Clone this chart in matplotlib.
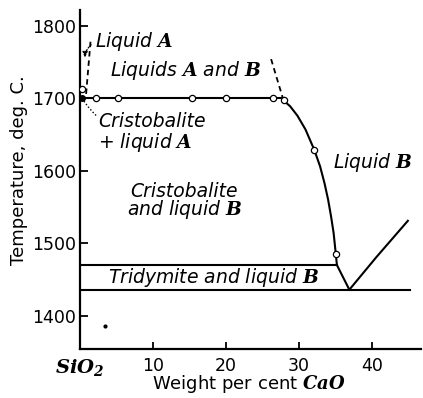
import matplotlib
matplotlib.use("Agg")
import matplotlib.pyplot as plt

plt.rcParams["font.family"] = ["DejaVu Sans"]
plt.rcParams["mathtext.fontset"] = "custom"
plt.rcParams["mathtext.it"] = "DejaVu Serif:italic:bold"
plt.rcParams["mathtext.rm"] = "DejaVu Serif:italic:bold"
plt.rcParams["mathtext.bf"] = "DejaVu Serif:italic:bold"

# CaO-SiO2 phase diagram, silica-rich end
# two-liquid monotectic at 1700 deg C (open circles = measured points)
mono_x = [0.0, 2.3, 5.2, 15.4, 20.0, 26.5, 27.9]
mono_t = [1700, 1700, 1700, 1700, 1700, 1700, 1700]
mono_pts_x = [2.3, 5.2, 15.4, 20.0, 26.5]

# cristobalite / tridymite liquidus down to the eutectic
liq_x = [27.9, 28.8, 29.8, 30.9, 32.1, 32.9, 33.5, 34.0, 34.4, 34.75, 35.05, 35.2, 36.9]
liq_t = [1697, 1689, 1676, 1657, 1629, 1606, 1583, 1560, 1537, 1514, 1485, 1470, 1436]
liq_pts_x = [27.9, 32.1, 35.05]
liq_pts_t = [1697, 1629, 1485]

# liquidus rising on the CaO-rich side of the eutectic
right_x = [36.9, 40.6, 44.9]
right_t = [1436, 1481, 1531]

# cristobalite melting point of pure silica
sio2_melt_x = [0.3]
sio2_melt_t = [1713]

# limits of the two-liquid region (dashed)
misc_left_x = [1.5, 0.85]
misc_left_t = [1778, 1700]
misc_right_x = [26.2, 27.9]
misc_right_t = [1754, 1697]

# horizontal boundaries
trid_x = [0.0, 35.2]
trid_t = [1470, 1470]
eut_x = [0.0, 45.2]
eut_t = [1436, 1436]

stray_x = [3.5]
stray_t = [1386]

xticks = [0, 10, 20, 30, 40]
xticklabels = [r"$SiO_2$", "10", "20", "30", "40"]
yticks = [1400, 1500, 1600, 1700, 1800]

fig = plt.figure(figsize=(4.23, 3.98), dpi=100)
ax = fig.add_axes([0.188, 0.1231, 0.8073, 0.8518])
ax.set_xlim(0, 46.7)
ax.set_ylim(1354.2, 1821.8)

lw = 1.5
ax.plot(mono_x, mono_t, color="black", lw=lw, zorder=3)
ax.plot(liq_x, liq_t, color="black", lw=lw, zorder=3)
ax.plot(right_x, right_t, color="black", lw=lw, zorder=3)
ax.plot(trid_x, trid_t, color="black", lw=lw, zorder=3)
ax.plot(eut_x, eut_t, color="black", lw=lw, zorder=3)
ax.plot(misc_left_x, misc_left_t, color="black", lw=1.3, ls=(0, (3, 2.2)), zorder=3)
ax.plot(misc_right_x, misc_right_t, color="black", lw=1.3, ls=(0, (3, 2.2)), zorder=3)

mk = dict(marker="o", ms=4.5, mfc="white", mec="black", mew=0.9, ls="none", zorder=5)
ax.plot(mono_pts_x, [1700] * len(mono_pts_x), **mk)
ax.plot(liq_pts_x, liq_pts_t, **mk)
ax.plot(sio2_melt_x, sio2_melt_t, **mk)
ax.plot([0.4], [1700], marker="o", ms=4, color="black", ls="none", zorder=4)
ax.plot(stray_x, stray_t, marker="o", ms=2, color="black", ls="none")

# dotted leaders
ax.plot([0.6, 1.2, 1.9, 2.4], [1696, 1688, 1680, 1675], color="black", lw=1.0,
        ls=(0, (1, 1.5)))
ax.annotate("", xy=(0.75, 1752), xytext=(1.9, 1776),
            arrowprops=dict(arrowstyle="-|>,head_length=0.35,head_width=0.15",
                            color="black", lw=0.9, ls=(0, (1, 1.5)),
                            connectionstyle="arc3,rad=0.3"))

tk = dict(fontsize=13.5, style="italic", ha="left", va="baseline")
ax.text(2.1, 1771, r"Liquid $A$", **tk)
ax.text(4.2, 1731, r"Liquids $A$ and $B$", **tk)
ax.text(2.5, 1660, "Cristobalite", **tk)
ax.text(2.5, 1631, r"+ liquid $A$", **tk)
ax.text(6.9, 1564, "Cristobalite", **tk)
ax.text(6.5, 1539, r"and liquid $B$", **tk)
ax.text(34.7, 1604, r"Liquid $B$", **tk)
ax.text(3.9, 1445, r"Tridymite and liquid $B$", **tk)

ax.set_xticks(xticks)
ax.set_xticklabels(xticklabels)
ax.set_yticks(yticks)
ax.tick_params(axis="both", direction="in", width=1.3, labelsize=12.5)
ax.tick_params(axis="x", length=5, pad=5.5)
ax.tick_params(axis="y", length=6, pad=2.5)
for lab in ax.get_xticklabels()[:1]:
    lab.set_fontsize(14)

for side in ("top", "right"):
    ax.spines[side].set_visible(False)
for side in ("left", "bottom"):
    ax.spines[side].set_linewidth(1.6)

ax.set_ylabel("Temperature, deg. C.", fontsize=13)
ax.yaxis.set_label_coords(-0.152, 0.528)
ax.set_xlabel(r"Weight per cent $CaO$", fontsize=13)
ax.xaxis.set_label_coords(0.495, -0.072)

fig.savefig("out.png", dpi=100)
